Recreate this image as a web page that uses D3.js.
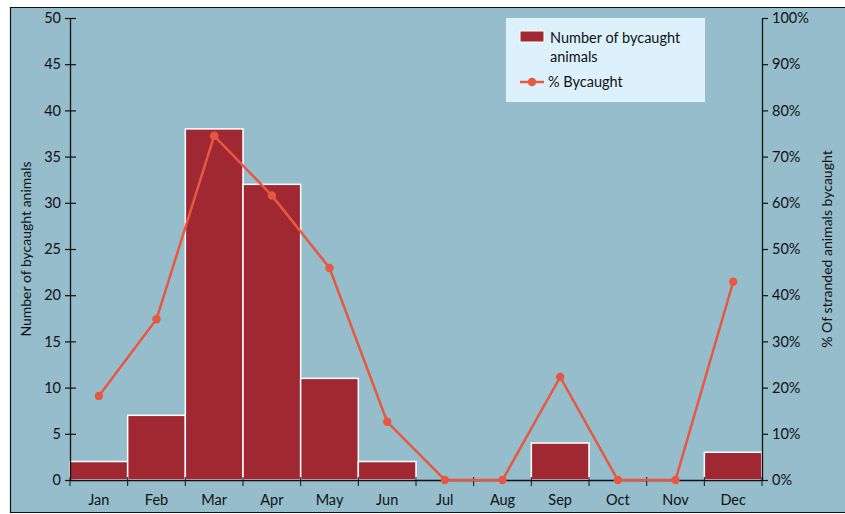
<!DOCTYPE html>
<html>
<head>
<meta charset="utf-8">
<script src="https://cdnjs.cloudflare.com/ajax/libs/d3/7.8.5/d3.min.js"></script>
<style>
  html, body { margin: 0; padding: 0; background: #fff; }
  svg { display: block; }
</style>
</head>
<body>
<div id="chart"></div>
<script>
var months = ['Jan', 'Feb', 'Mar', 'Apr', 'May', 'Jun', 'Jul', 'Aug', 'Sep', 'Oct', 'Nov', 'Dec'];
var bycaught = [2, 7, 38, 32, 11, 2, 0, 0, 4, 0, 0, 3];
var pctBycaught = [18.2, 34.8, 74.5, 61.6, 45.9, 12.6, 0, 0, 22.3, 0, 0, 42.9];
var leftTicks = [0, 5, 10, 15, 20, 25, 30, 35, 40, 45, 50];
var rightTicks = [0, 10, 20, 30, 40, 50, 60, 70, 80, 90, 100];

var width = 845, height = 514;
var margin = { top: 18, right: 83, bottom: 34, left: 70 };
var font = '"Lato", "Open Sans", sans-serif';

var svg = d3.select('#chart')
  .append('svg')
  .attr('width', width)
  .attr('height', height)
  .attr('font-family', font);

// panel background
svg.append('rect')
  .attr('x', 10).attr('y', 7)
  .attr('width', width - 10).attr('height', 505)
  .attr('fill', '#95bdcc');
svg.append('path')
  .attr('d', 'M' + width + ',7.5 H10.5 V512.5 H' + width)
  .attr('fill', 'none')
  .attr('stroke', '#111')
  .attr('stroke-width', 1.2);

var x = d3.scaleBand()
  .domain(months)
  .range([margin.left, width - margin.right])
  .padding(0);

var yL = d3.scaleLinear().domain([0, 50]).range([height - margin.bottom, margin.top]);
var yR = d3.scaleLinear().domain([0, 100]).range([height - margin.bottom, margin.top]);

// bars
svg.append('g')
  .selectAll('rect')
  .data(months.map((m, i) => ({ m: m, v: bycaught[i] })).filter(d => d.v > 0))
  .enter().append('rect')
    .attr('x', d => x(d.m))
    .attr('y', d => yL(d.v))
    .attr('width', x.bandwidth())
    .attr('height', d => yL(0) - yL(d.v))
    .attr('fill', '#a02833')
    .attr('stroke', '#fff')
    .attr('stroke-width', 1.5);

// left axis
var leftAxis = svg.append('g')
  .attr('transform', 'translate(' + margin.left + ',0)')
  .call(d3.axisLeft(yL).tickValues(leftTicks).tickSize(6).tickSizeOuter(0));
leftAxis.selectAll('.tick line').attr('x1', 6).attr('x2', -5);

// right axis
var rightAxis = svg.append('g')
  .attr('transform', 'translate(' + (width - margin.right) + ',0)')
  .call(d3.axisRight(yR).tickValues(rightTicks).tickFormat(d => d + '%').tickSize(6).tickSizeOuter(0));

// bottom axis
var bottomAxis = svg.append('g')
  .attr('transform', 'translate(0,' + (height - margin.bottom) + ')')
  .call(d3.axisBottom(x).tickSize(0).tickSizeOuter(0));
bottomAxis.selectAll('.tick text').attr('y', 0).attr('dy', '1.75em');
bottomAxis.selectAll('.sep')
  .data(d3.range(months.length + 1))
  .enter().append('line')
    .attr('class', 'sep')
    .attr('x1', i => margin.left + i * x.bandwidth())
    .attr('x2', i => margin.left + i * x.bandwidth())
    .attr('y1', -3).attr('y2', 6)
    .attr('stroke', '#111');

[leftAxis, rightAxis, bottomAxis].forEach(a => {
  a.selectAll('.domain').attr('stroke', '#111').attr('stroke-width', 1.3);
  a.selectAll('.tick line').attr('stroke', '#111').attr('stroke-width', 1.2);
  a.selectAll('text').attr('font-size', 14.5).attr('fill', '#111').attr('font-family', font);
});
leftAxis.selectAll('.tick text').attr('x', -9);
rightAxis.selectAll('.tick text').attr('x', 10);

// line
var pts = months.map((m, i) => ({ m: m, v: pctBycaught[i] }));
var lineColor = '#e85840';
svg.append('path')
  .datum(pts)
  .attr('fill', 'none')
  .attr('stroke', lineColor)
  .attr('stroke-width', 2.5)
  .attr('d', d3.line().x(d => x(d.m) + x.bandwidth() / 2).y(d => yR(d.v)));

svg.append('g')
  .selectAll('circle')
  .data(pts)
  .enter().append('circle')
    .attr('cx', d => x(d.m) + x.bandwidth() / 2)
    .attr('cy', d => yR(d.v))
    .attr('r', 4.2)
    .attr('fill', lineColor);

// axis titles
svg.append('text')
  .attr('transform', 'translate(31,' + ((margin.top + height - margin.bottom) / 2) + ') rotate(-90)')
  .attr('text-anchor', 'middle')
  .attr('font-size', 14)
  .attr('fill', '#111')
  .text('Number of bycaught animals');

svg.append('text')
  .attr('transform', 'translate(832,' + ((margin.top + height - margin.bottom) / 2) + ') rotate(-90)')
  .attr('text-anchor', 'middle')
  .attr('font-size', 14)
  .attr('fill', '#111')
  .text('% Of stranded animals bycaught');

// legend
var legend = svg.append('g').attr('transform', 'translate(506,18)');
legend.append('rect')
  .attr('width', 199).attr('height', 84)
  .attr('fill', '#dcf1fb');
legend.append('rect')
  .attr('x', 14).attr('y', 13).attr('width', 24).attr('height', 11)
  .attr('fill', '#a02833').attr('stroke', '#fff').attr('stroke-width', 1);
legend.append('text')
  .attr('x', 44).attr('y', 25)
  .attr('font-size', 14.5).attr('fill', '#111')
  .text('Number of bycaught');
legend.append('text')
  .attr('x', 44).attr('y', 44)
  .attr('font-size', 14.5).attr('fill', '#111')
  .text('animals');
legend.append('line')
  .attr('x1', 14).attr('x2', 38).attr('y1', 64).attr('y2', 64)
  .attr('stroke', lineColor).attr('stroke-width', 2.5);
legend.append('circle')
  .attr('cx', 26).attr('cy', 64).attr('r', 4.2)
  .attr('fill', lineColor);
legend.append('text')
  .attr('x', 42).attr('y', 69)
  .attr('font-size', 14.5).attr('fill', '#111')
  .text('% Bycaught');
</script>
</body>
</html>
